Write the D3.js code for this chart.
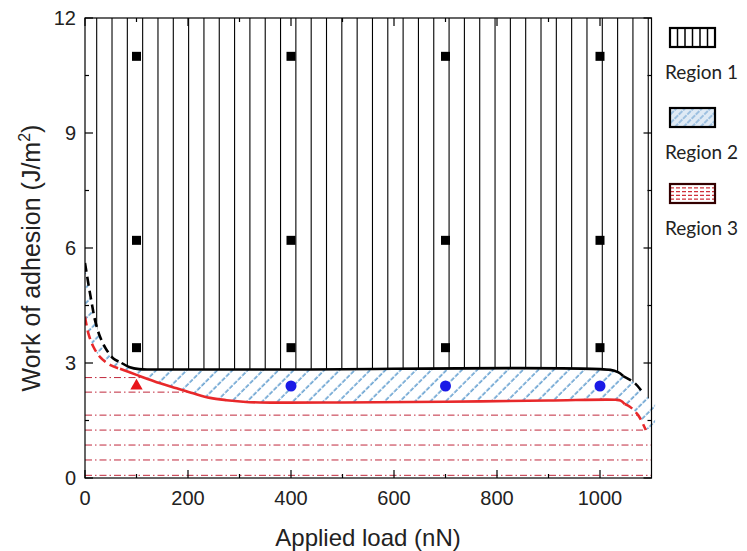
<!DOCTYPE html>
<html><head><meta charset="utf-8">
<script src="https://cdn.jsdelivr.net/npm/d3@7"></script>
<style>body{margin:0;background:#fff}svg{display:block}</style>
</head><body>
<svg id="c" width="747" height="551"></svg>
<script>
// ---- data ----
const xTicksMajor = [0, 200, 400, 600, 800, 1000];
const yTicksMajor = [0, 3, 6, 9, 12];
const squareX = [100, 400, 700, 1000];
const squareY = [3.4, 6.2, 11.0];
const circleX = [400, 700, 1000];
const circleY = [2.4, 2.4, 2.4];
const triangleX = [100];
const triangleY = [2.4];
// boundary between region 1 and region 2 (black)
const blackLeft = [[0,5.61],[6.4,5.08],[13,4.57],[19.4,4.12],[29,3.69],[42,3.34],[55,3.12],[71,3.0]];
const blackMid = [[71,3.0],[87,2.89],[105,2.84],[130,2.83],[400,2.83],[1020,2.82],[1035,2.76],[1045,2.66]];
const blackRight = [[1045,2.66],[1068,2.47],[1084,2.21]];
// boundary between region 2 and region 3 (red)
const redLeft = [[0,4.21],[6.4,3.78],[16,3.43],[29,3.16],[48.5,2.95],[68,2.85]];
const redMid = [[68,2.85],[100,2.69],[146,2.47],[178,2.34],[210,2.21],[243,2.09],[275,2.03],[307,1.99],[340,1.97],[500,1.97],[700,1.99],[900,2.02],[1030,2.04],[1040,2.02],[1048,1.93]];
const redRight = [[1048,1.93],[1058,1.86],[1074,1.64],[1089,1.25]];
const region3Lines = [2.62, 2.24, 1.64, 1.25, 0.86, 0.47, 0.07];
const legendLabels = ["Region 1", "Region 2", "Region 3"];

// ---- scales ----
const svg = d3.select("#c");
const x = d3.scaleLinear().domain([0, 1100]).range([85, 651.5]);
const y = d3.scaleLinear().domain([0, 12]).range([478, 18]);
const curve = d3.curveCatmullRom.alpha(0.5);
const line = d3.line().x(d => x(d[0])).y(d => y(d[1])).curve(curve);

const blackAll = blackLeft.concat(blackMid.slice(1), blackRight.slice(1));
const redAll = redLeft.concat(redMid.slice(1), redRight.slice(1));
const toL = s => "L" + s.slice(1);

const defs = svg.append("defs");
defs.append("clipPath").attr("id","plot").append("rect")
  .attr("x", x(0)).attr("y", y(12)).attr("width", x(1100)-x(0)).attr("height", y(0)-y(12));
defs.append("clipPath").attr("id","r1").append("path")
  .attr("d", line(blackAll) + `L${x(1100)},${y(2.0)}L${x(1100)},${y(12)}L${x(0)},${y(12)}Z`);
defs.append("clipPath").attr("id","r2").append("path")
  .attr("d", line(blackAll) + `L${x(1107)},${y(1.95)}L${x(1107)},${y(1.35)}` + toL(line(redAll.slice().reverse())) + "Z");
defs.append("clipPath").attr("id","r3").append("path")
  .attr("d", line(redAll) + `L${x(1100)},${y(0.9)}L${x(1100)},${y(0)}L${x(0)},${y(0)}Z`);

const hp = defs.append("pattern").attr("id","diag").attr("patternUnits","userSpaceOnUse")
  .attr("width", 10.8).attr("height", 12).attr("patternTransform","rotate(45)");
hp.append("line").attr("x1",5).attr("x2",5).attr("y1",0).attr("y2",12)
  .attr("stroke","#2f7fc0").attr("stroke-width",1.2).attr("stroke-dasharray","4.5,1.5");
const hp2 = defs.append("pattern").attr("id","diagL").attr("patternUnits","userSpaceOnUse")
  .attr("width", 6).attr("height", 6).attr("patternTransform","rotate(45)");
hp2.append("rect").attr("width",6).attr("height",6).attr("fill","#dfeaf5");
hp2.append("line").attr("x1",3).attr("x2",3).attr("y1",0).attr("y2",6)
  .attr("stroke","#5b97cc").attr("stroke-width",1).attr("stroke-dasharray","3,1");

// region 2 hatch
svg.append("g").attr("clip-path","url(#r2)")
  .append("rect").attr("x", x(0)).attr("y", y(6)).attr("width", x(1110)-x(0)).attr("height", y(0)-y(6))
  .attr("fill","url(#diag)");

// region 1 vertical lines
const vStep = 29.75;
const vLines = d3.range(22.7, 1100, vStep);
svg.append("g").attr("clip-path","url(#r1)").selectAll("line").data(vLines).join("line")
  .attr("x1", d => x(d)).attr("x2", d => x(d)).attr("y1", y(12)).attr("y2", y(0))
  .attr("stroke","#000").attr("stroke-width",1.1);

// region 3 dash-dot lines
svg.append("g").attr("clip-path","url(#r3)").selectAll("line").data(region3Lines).join("line")
  .attr("x1", x(0)).attr("x2", x(1100)).attr("y1", d => y(d)).attr("y2", d => y(d))
  .attr("stroke","#c0283c").attr("stroke-width",1).attr("stroke-dasharray","7,3,1.5,3");

// boundaries
const bg = svg.append("g").attr("fill","none").attr("clip-path","url(#plot)");
bg.append("path").attr("d", line(redLeft)).attr("stroke","#e8282a").attr("stroke-width",2.6).attr("stroke-dasharray","9,5");
bg.append("path").attr("d", line(redMid)).attr("stroke","#e8282a").attr("stroke-width",2.6);
bg.append("path").attr("d", line(redRight)).attr("stroke","#e8282a").attr("stroke-width",2.6).attr("stroke-dasharray","9,5");
bg.append("path").attr("d", line(blackLeft)).attr("stroke","#000").attr("stroke-width",2.6).attr("stroke-dasharray","9,5");
bg.append("path").attr("d", line(blackMid)).attr("stroke","#000").attr("stroke-width",2.6);
bg.append("path").attr("d", line(blackRight)).attr("stroke","#000").attr("stroke-width",2.6).attr("stroke-dasharray","9,5");

// markers
const sq = [];
squareX.forEach(a => squareY.forEach(b => sq.push([a,b])));
svg.append("g").selectAll("rect").data(sq).join("rect")
  .attr("x", d => x(d[0]) - 4.5).attr("y", d => y(d[1]) - 4.5).attr("width", 9).attr("height", 9).attr("fill","#000");
svg.append("g").selectAll("circle").data(circleX.map((a,i)=>[a,circleY[i]])).join("circle")
  .attr("cx", d => x(d[0])).attr("cy", d => y(d[1])).attr("r", 5.5).attr("fill","#1a1ae6");
svg.append("g").selectAll("path").data(triangleX.map((a,i)=>[a,triangleY[i]])).join("path")
  .attr("d", d3.symbol(d3.symbolTriangle, 66))
  .attr("transform", d => `translate(${x(d[0])},${y(d[1])})`).attr("fill","#e8141a");

// frame and ticks
const ax = svg.append("g").attr("stroke","#000").attr("stroke-width",1.2);
ax.append("rect").attr("x", x(0)).attr("y", y(12)).attr("width", x(1100)-x(0)).attr("height", y(0)-y(12)).attr("fill","none");
const xMinor = d3.range(100, 1100, 200);
const yMinor = d3.range(1.5, 12, 3);
xTicksMajor.forEach(v => {
  ax.append("line").attr("x1",x(v)).attr("x2",x(v)).attr("y1",y(0)).attr("y2",y(0)-8);
  ax.append("line").attr("x1",x(v)).attr("x2",x(v)).attr("y1",y(12)).attr("y2",y(12)+8);
});
xMinor.forEach(v => {
  ax.append("line").attr("x1",x(v)).attr("x2",x(v)).attr("y1",y(0)).attr("y2",y(0)-4);
  ax.append("line").attr("x1",x(v)).attr("x2",x(v)).attr("y1",y(12)).attr("y2",y(12)+4);
});
yTicksMajor.forEach(v => {
  ax.append("line").attr("x1",x(0)).attr("x2",x(0)+8).attr("y1",y(v)).attr("y2",y(v));
  ax.append("line").attr("x1",x(1100)).attr("x2",x(1100)-8).attr("y1",y(v)).attr("y2",y(v));
});
yMinor.forEach(v => {
  ax.append("line").attr("x1",x(0)).attr("x2",x(0)+4).attr("y1",y(v)).attr("y2",y(v));
  ax.append("line").attr("x1",x(1100)).attr("x2",x(1100)-4).attr("y1",y(v)).attr("y2",y(v));
});

// tick labels
const font = "'Liberation Sans', Arial, sans-serif";
svg.append("g").selectAll("text").data(xTicksMajor).join("text")
  .attr("x", d => x(d)).attr("y", 505).attr("text-anchor","middle")
  .attr("font-family", font).attr("font-size", 20).attr("fill","#222").text(d => d);
svg.append("g").selectAll("text").data(yTicksMajor).join("text")
  .attr("x", 76).attr("y", d => y(d) + 7).attr("text-anchor","end")
  .attr("font-family", font).attr("font-size", 20).attr("fill","#222").text(d => d);

// axis titles
svg.append("text").attr("x", 368).attr("y", 546).attr("text-anchor","middle")
  .attr("font-family", font).attr("font-size", 24).attr("fill","#222").text("Applied load (nN)");
const yt = svg.append("text").attr("transform","translate(40,258) rotate(-90)").attr("text-anchor","middle")
  .attr("font-family", font).attr("font-size", 25).attr("fill","#222");
yt.append("tspan").text("Work of adhesion (J/m");
yt.append("tspan").attr("font-size", 16).attr("dy", -10).text("2");
yt.append("tspan").attr("dy", 10).text(")");

// legend
const lg = svg.append("g");
const bx = 670, bw = 45, bh = 19;
const boxY = [28, 108, 184];
const textY = [79, 159, 235];
lg.append("rect").attr("x",bx).attr("y",boxY[0]).attr("width",bw).attr("height",bh).attr("fill","#fff");
d3.range(1,6).forEach(i => lg.append("line").attr("x1",bx+i*bw/6).attr("x2",bx+i*bw/6)
  .attr("y1",boxY[0]).attr("y2",boxY[0]+bh).attr("stroke","#000").attr("stroke-width",1.5));
lg.append("rect").attr("x",bx).attr("y",boxY[0]).attr("width",bw).attr("height",bh).attr("fill","none").attr("stroke","#000").attr("stroke-width",2.2);
lg.append("rect").attr("x",bx).attr("y",boxY[1]).attr("width",bw).attr("height",bh).attr("fill","url(#diagL)")
  .attr("stroke","#000").attr("stroke-width",2.2);
lg.append("rect").attr("x",bx).attr("y",boxY[2]).attr("width",bw).attr("height",bh).attr("fill","#fff");
d3.range(1,5).forEach(i => lg.append("line").attr("x1",bx).attr("x2",bx+bw)
  .attr("y1",boxY[2]+i*bh/5).attr("y2",boxY[2]+i*bh/5).attr("stroke","#d0303a").attr("stroke-width",1.2).attr("stroke-dasharray","4,2"));
lg.append("rect").attr("x",bx).attr("y",boxY[2]).attr("width",bw).attr("height",bh).attr("fill","none").attr("stroke","#300").attr("stroke-width",2.2);
lg.selectAll("text").data(legendLabels).join("text")
  .attr("x", 665).attr("y", (d,i) => textY[i]).attr("font-family","Lato, 'Open Sans', sans-serif")
  .attr("font-size", 19).attr("fill","#222").text(d => d);
</script>
</body></html>
